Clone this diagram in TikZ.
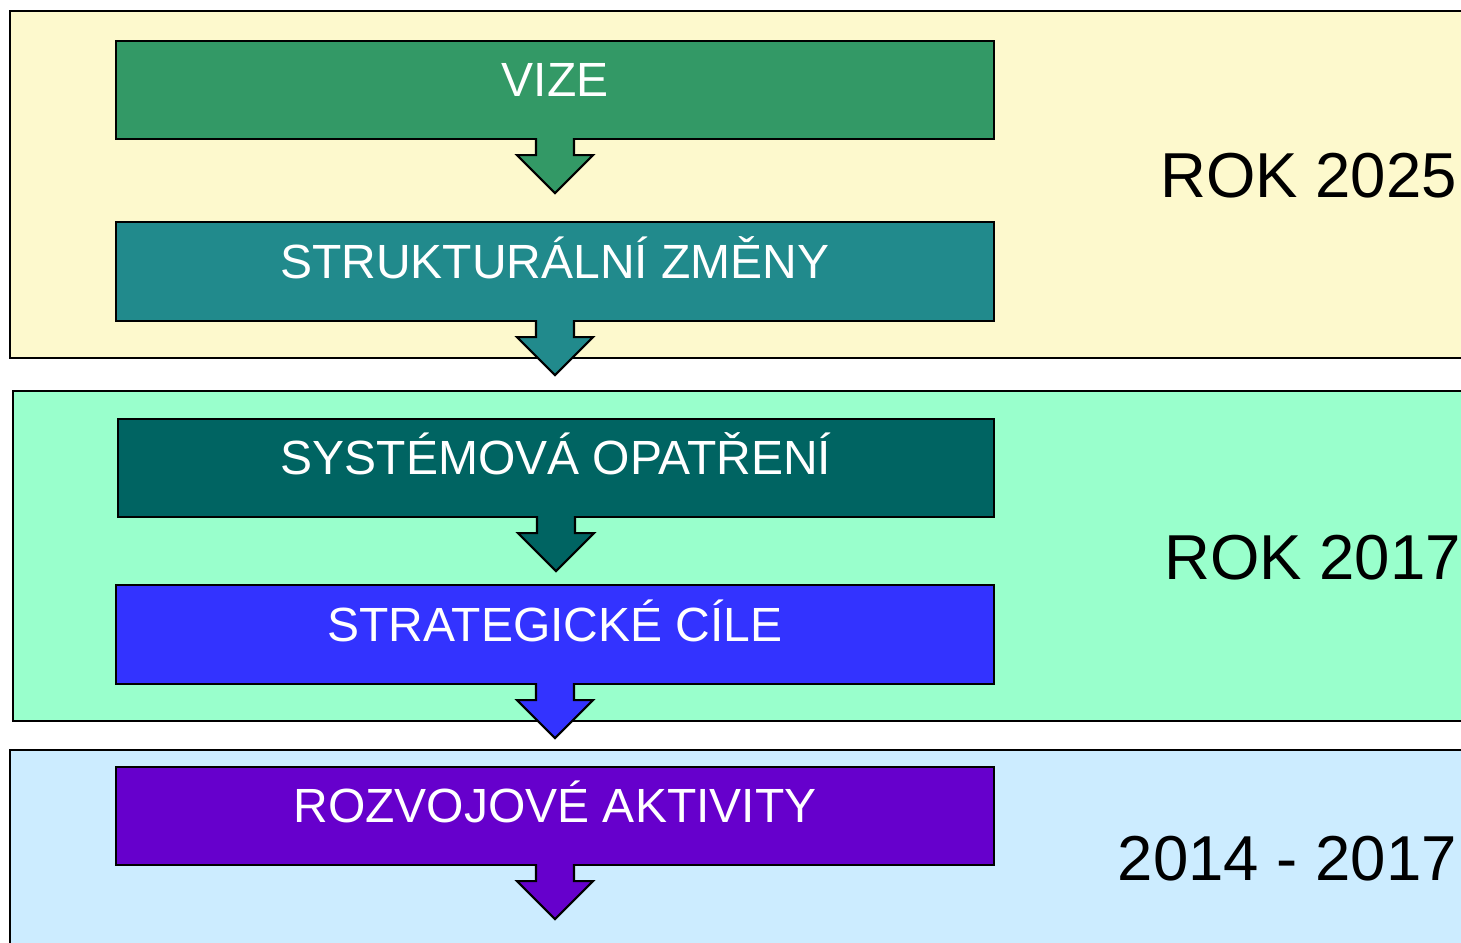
\documentclass[tikz,border=0pt]{standalone}
\usepackage{fontspec}
\setmainfont{Liberation Sans}
\usepackage{tikz}

\definecolor{band1}{HTML}{FDF9CD}
\definecolor{band2}{HTML}{99FFCC}
\definecolor{band3}{HTML}{CCECFF}
\definecolor{cvize}{HTML}{339966}
\definecolor{czmeny}{HTML}{218A8C}
\definecolor{copatreni}{HTML}{006462}
\definecolor{ccile}{HTML}{3333FF}
\definecolor{caktivity}{HTML}{6600CC}

\tikzset{
  band/.style={draw=black,line width=1.5pt},
  krok/.style={draw=black,line width=2.2pt,minimum height=98pt,inner sep=0pt,
    text=white,text height=34pt,text depth=21pt,
    font=\fontsize{48}{56}\selectfont},
  rok/.style={anchor=base east,inner sep=0pt,font=\fontsize{63.5}{76}\selectfont}
}

% block arrow under a box
\newcommand\blokarrow[2]{%
  \begin{scope}[shift={(#1.south)}]
  \filldraw[fill=#2,draw=black,line width=2.2pt] (-19,-2) -- (-19,15) -- (-38,15) -- (0,53)
    -- (38,15) -- (19,15) -- (19,-2);
  \end{scope}}

\begin{document}
\begin{tikzpicture}[x=1pt,y=-1pt]
\useasboundingbox (0,0) rectangle (1461,942);
\fill[white] (0,0) rectangle (1461,942);
% bands
\draw[band,fill=band1] (10,11) rectangle (1475,358);
\draw[band,fill=band2] (13,391) rectangle (1475,721);
\draw[band,fill=band3] (10,750) rectangle (1475,960);
% boxes
\node[krok,fill=cvize,minimum width=878pt] (vize) at (555,90) {VIZE};
\node[krok,fill=czmeny,minimum width=878pt,minimum height=99pt] (zmeny) at (555,271.5) {STRUKTURÁLNÍ ZMĚNY};
\node[krok,fill=copatreni,minimum width=876pt] (opatreni) at (556,468) {SYSTÉMOVÁ OPATŘENÍ};
\node[krok,fill=ccile,minimum width=878pt,minimum height=99pt] (cile) at (555,634.5) {STRATEGICKÉ CÍLE};
\node[krok,fill=caktivity,minimum width=878pt] (aktivity) at (555,816) {ROZVOJOVÉ AKTIVITY};
% arrows
\blokarrow{vize}{cvize}
\blokarrow{zmeny}{czmeny}
\blokarrow{opatreni}{copatreni}
\blokarrow{cile}{ccile}
\blokarrow{aktivity}{caktivity}
% years
\node[rok] (r2025) at (1457,197.7) {ROK 2025};
\node[rok] (r2017) at (1461,579) {ROK 2017};
\node[rok] (r2014) at (1457,880.7) {2014 - 2017};
\end{tikzpicture}
\end{document}
